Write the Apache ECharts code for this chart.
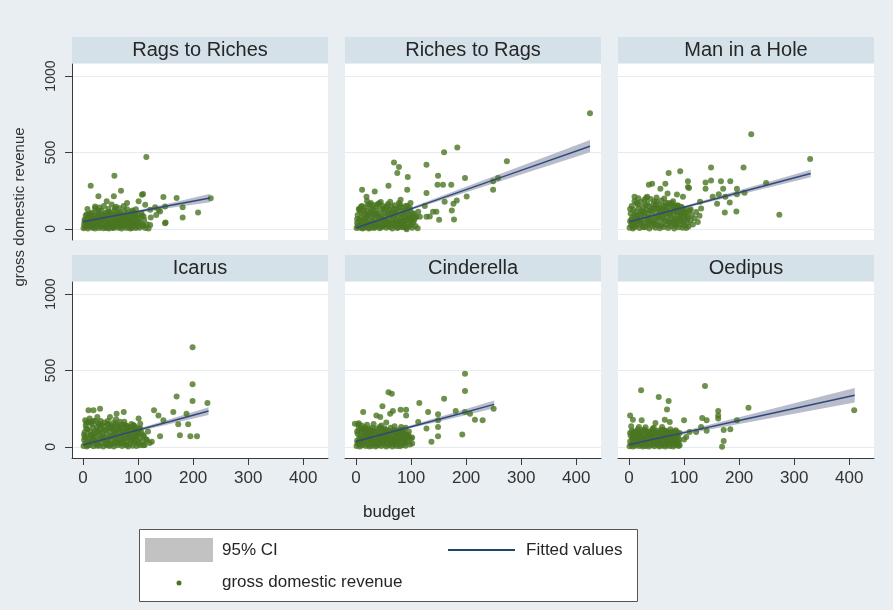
<!DOCTYPE html>
<html>
<head>
<meta charset="utf-8">
<title>gross domestic revenue by budget</title>
<script src="https://cdn.jsdelivr.net/npm/echarts@6/dist/echarts.min.js"></script>
<style>
  html, body { margin: 0; padding: 0; background: #e8eef2; }
  #chart { width: 893px; height: 610px; }
</style>
</head>
<body>
<div id="chart"></div>
<script>
  const panelNames = ['Rags to Riches', 'Riches to Rags', 'Man in a Hole', 'Icarus', 'Cinderella', 'Oedipus'];
  const xTicks = [0, 100, 200, 300, 400];
  const yTicks = [0, 500, 1000];

  // budget, revenue
  const ragsToRiches = [
    [1,4],[2,30],[3,62],[4,12],[5,88],[6,45],[7,20],[8,70],[9,2],[10,38],[11,95],[12,55],[13,15],[14,78],[15,28],[16,105],[17,8],[18,48],[19,65],[20,22],[21,88],[22,3],[23,40],[24,112],[25,60],[26,18],[27,80],[28,32],[29,6],[30,98],[31,50],[32,70],[33,14],[34,118],[35,36],[36,85],[37,4],[38,58],[39,26],[40,102],[41,72],[42,10],[43,44],[44,90],[45,20],[46,64],[47,2],[48,110],[49,34],[50,80],[51,52],[52,12],[53,96],[54,28],[55,68],[56,5],[57,120],[58,42],[59,85],[60,18],[61,60],[62,100],[63,32],[64,8],[65,75],[66,48],[67,108],[68,22],[69,62],[70,3],[71,90],[72,38],[73,15],[74,70],[75,115],[76,50],[77,25],[78,85],[79,6],[80,60],[81,100],[82,35],[83,14],[84,78],[85,45],[86,2],[87,95],[88,28],[89,62],[90,12],[91,82],[92,40],[93,105],[94,20],[95,58],[96,5],[97,75],[98,32],[99,92],[100,15],[101,50],[102,70],[103,8],[105,38],[107,88],[109,18],[111,60],[113,5],[116,30],[119,2],[123,75],
    [3,50],[7,95],[11,25],[15,60],[19,10],[23,75],[27,45],[31,20],[35,65],[39,85],[43,5],[47,40],[51,95],[55,30],[59,55],[63,75],[67,15],[71,45],[75,85],[79,30],[83,50],[87,70],[91,25],[95,90],[99,40],[5,15],[17,35],[29,90],[41,55],[53,8],[65,100],[77,62],[89,5],[61,40],[45,108],
    [8,130],[14,98],[22,135],[30,140],[38,150],[46,130],[52,160],[60,145],[66,135],[74,150],[80,128],[90,120],[28,120],[58,135],[96,128],
    [115,470],[57,348],[14,282],[69,250],[28,213],[109,228],[56,213],[43,180],[146,208],[170,202],[232,200],[101,180],[181,142],[149,147],[181,74],[209,107],[150,41],[137,125],[110,81],[89,114],[106,103],[122,125],[113,158],[131,142],[140,114],[149,37],[109,26],[122,26],[80,169],[22,146],[107,224],[133,90]
  ];
  const richesToRags = [
    [1,5],[2,40],[3,90],[4,18],[5,130],[6,60],[7,8],[8,110],[9,32],[10,75],[11,150],[12,3],[13,50],[14,95],[15,22],[16,140],[17,68],[18,10],[19,120],[20,42],[21,85],[22,160],[23,2],[24,58],[25,105],[26,28],[27,135],[28,78],[29,14],[30,48],[31,155],[32,92],[33,6],[34,65],[35,118],[36,35],[37,145],[38,82],[39,20],[40,100],[41,55],[42,165],[43,4],[44,72],[45,128],[46,38],[47,90],[48,15],[49,150],[50,60],[51,112],[52,25],[53,80],[54,140],[55,8],[56,48],[57,98],[58,162],[59,30],[60,70],[61,125],[62,12],[63,88],[64,52],[65,145],[66,2],[67,108],[68,40],[69,75],[70,155],[71,18],[72,95],[73,60],[74,130],[75,6],[76,85],[77,35],[78,115],[79,50],[80,160],[81,22],[82,70],[83,140],[84,10],[85,98],[86,45],[87,120],[88,28],[89,78],[90,150],[91,5],[92,62],[93,105],[94,36],[95,132],[96,15],[97,88],[98,52],[99,115],[100,25],[101,72],[102,8],[103,95],[104,40],[106,60],[108,18],[110,80],[112,4],
    [2,65],[6,125],[10,20],[14,115],[18,45],[22,95],[26,5],[30,125],[34,40],[38,160],[42,80],[46,10],[50,130],[54,55],[58,110],[62,35],[66,85],[70,105],[74,45],[78,140],[82,95],[86,15],[90,115],[94,75],[98,135],[102,60],[9,145],[25,160],[37,100],[49,30],[57,148],[69,125],[81,45],[93,152],[105,100],
    [3,22],[8,55],[14,8],[18,80],[24,30],[29,100],[35,12],[41,25],[47,60],[53,40],[58,20],[64,100],[70,30],[77,10],[83,55],[89,12],[95,70],[27,170],[45,175],[62,178],[20,182],[78,170],
    [425,757],[160,501],[184,532],[128,420],[274,442],[69,435],[78,405],[75,366],[94,340],[149,348],[198,333],[11,256],[34,245],[59,282],[93,256],[148,289],[158,289],[173,289],[249,311],[258,333],[249,256],[201,212],[183,186],[177,164],[174,120],[178,61],[151,59],[128,234],[128,79],[134,81],[116,79],[107,74],[140,112],[146,112],[19,210],[42,168],[81,190],[99,170],[92,-2],[90,55],[113,112],[125,149],[161,177]
  ];
  const manInAHole = [
    [1,8],[2,50],[3,100],[4,25],[5,150],[6,75],[7,3],[8,125],[9,40],[10,180],[11,62],[12,15],[13,110],[14,88],[15,30],[16,160],[17,55],[18,135],[19,5],[20,95],[21,45],[22,175],[23,70],[24,20],[25,140],[26,115],[27,38],[28,190],[29,82],[30,10],[31,125],[32,58],[33,165],[34,28],[35,100],[36,148],[37,2],[38,72],[39,195],[40,45],[41,118],[42,18],[43,88],[44,160],[45,35],[46,130],[47,62],[48,8],[49,105],[50,178],[51,48],[52,140],[53,22],[54,80],[55,158],[56,4],[57,115],[58,65],[59,185],[60,32],[61,92],[62,150],[63,12],[64,128],[65,55],[66,100],[67,170],[68,25],[69,78],[70,140],[71,6],[72,110],[73,45],[74,160],[75,85],[76,18],[77,125],[78,60],[79,148],[80,35],[81,98],[82,3],[83,135],[84,70],[85,20],[86,115],[87,50],[88,155],[89,85],[90,10],[91,130],[92,62],[93,100],[94,30],[95,145],[96,75],[97,8],[98,118],[99,45],[100,90],[101,22],[102,130],[103,60],[104,5],[105,105],[106,40],[107,80],[108,15],[110,120],[112,55],[114,90],[116,28],[119,70],[122,110],[125,45],[128,85],
    [2,130],[6,30],[10,90],[14,170],[18,60],[22,115],[26,10],[30,155],[34,75],[38,120],[42,50],[46,180],[50,80],[54,130],[58,20],[62,110],[66,150],[70,50],[74,95],[78,170],[82,115],[86,35],[90,150],[94,80],[98,135],[102,100],[106,70],[12,45],[24,100],[36,35],[48,150],[60,130],[72,170],[84,150],[96,110],
    [4,60],[9,12],[15,80],[22,40],[28,105],[35,55],[42,135],[48,30],[55,95],[62,70],[68,120],[75,40],[82,60],[88,112],[95,50],[17,200],[33,210],[50,205],[64,198],[80,180],
    [222,619],[329,458],[149,401],[208,401],[72,366],[93,377],[36,289],[42,295],[66,295],[107,311],[107,274],[139,304],[149,317],[139,263],[167,311],[184,311],[171,263],[249,300],[109,267],[87,225],[57,263],[196,263],[196,226],[210,236],[163,226],[152,210],[175,210],[183,172],[195,114],[160,164],[174,107],[273,92],[131,134],[129,177],[112,129],[31,202],[70,232],[98,210],[10,210]
  ];
  const icarus = [
    [1,6],[2,45],[3,95],[4,20],[5,140],[6,70],[7,2],[8,115],[9,35],[10,165],[11,58],[12,12],[13,100],[14,80],[15,28],[16,150],[17,50],[18,125],[19,4],[20,88],[21,40],[22,170],[23,65],[24,18],[25,130],[26,105],[27,32],[28,155],[29,75],[30,8],[31,118],[32,52],[33,145],[34,24],[35,92],[36,135],[37,3],[38,68],[39,160],[40,42],[41,110],[42,15],[43,82],[44,150],[45,30],[46,120],[47,58],[48,6],[49,98],[50,140],[51,45],[52,128],[53,20],[54,75],[55,112],[56,2],[57,105],[58,60],[59,150],[60,28],[61,88],[62,135],[63,10],[64,118],[65,50],[66,95],[67,165],[68,22],[69,72],[70,130],[71,5],[72,100],[73,40],[74,145],[75,80],[76,15],[77,115],[78,55],[79,138],[80,32],[81,90],[82,3],[83,125],[84,65],[85,18],[86,108],[87,45],[88,150],[89,78],[90,8],[91,120],[92,58],[93,95],[94,28],[95,130],[96,70],[97,5],[98,110],[99,40],[100,85],[101,20],[102,120],[103,55],[104,10],[106,95],[108,35],[110,70],[112,12],[115,50],[118,100],[121,25],
    [2,80],[6,120],[10,30],[14,160],[18,65],[22,100],[26,8],[30,140],[34,60],[38,110],[42,40],[46,150],[50,15],[54,130],[58,85],[62,50],[66,120],[70,30],[74,100],[78,140],[82,60],[86,130],[90,50],[94,110],[98,75],[102,90],[6,160],[18,170],[32,170],[48,125],[56,160],[68,145],[80,110],[92,140],[104,120],
    [3,60],[9,10],[16,75],[23,38],[30,95],[37,50],[44,10],[51,70],[58,30],[65,25],[72,60],[79,12],[86,80],[93,40],[12,185],[26,195],[45,170],[60,180],[75,165],
    [199,652],[199,409],[199,300],[226,287],[170,330],[129,239],[137,206],[164,228],[188,217],[146,174],[173,148],[191,148],[176,76],[195,70],[207,70],[140,70],[125,33],[101,185],[104,152],[19,239],[31,250],[10,239],[49,196],[61,217],[74,228],[4,174],[92,141],[110,76],[116,43],[110,11]
  ];
  const cinderella = [
    [1,5],[2,40],[3,85],[4,18],[5,120],[6,60],[7,2],[8,100],[9,30],[10,70],[11,10],[12,110],[13,48],[14,88],[15,22],[16,128],[17,58],[18,6],[19,95],[20,35],[21,75],[22,14],[23,115],[24,50],[25,3],[26,90],[27,28],[28,68],[29,125],[30,8],[31,45],[32,105],[33,20],[34,80],[35,55],[36,2],[37,118],[38,38],[39,72],[40,12],[41,98],[42,50],[43,130],[44,25],[45,85],[46,5],[47,62],[48,110],[49,32],[50,78],[51,15],[52,120],[53,45],[54,92],[55,3],[56,65],[57,28],[58,105],[59,50],[60,10],[61,85],[62,38],[63,125],[64,20],[65,70],[66,2],[67,98],[68,45],[69,112],[70,15],[71,60],[72,30],[73,88],[74,6],[75,75],[76,42],[77,100],[78,18],[79,58],[80,4],[81,80],[82,35],[83,110],[84,12],[85,65],[86,45],[87,90],[88,22],[89,55],[90,8],[92,75],[94,35],[96,100],[98,15],[100,55],
    [2,100],[6,30],[10,120],[14,40],[18,115],[22,60],[26,110],[30,85],[34,35],[38,100],[42,75],[46,120],[50,40],[54,110],[58,70],[62,100],[66,55],[70,95],[74,40],[78,110],[82,60],[86,100],[90,40],[94,80],[8,55],[16,90],[24,80],[28,100],[44,60],[56,90],[64,45],[72,105],[84,90],[92,55],[96,70],
    [5,155],[10,140],[20,145],[32,150],[46,140],[55,160],[70,135],[82,130],[90,125],[3,25],[14,65],[27,45],[41,15],[52,75],[66,30],[78,80],
    [198,478],[198,365],[59,358],[65,348],[160,315],[115,287],[48,265],[13,228],[67,235],[81,243],[91,243],[62,217],[91,206],[131,228],[149,213],[181,235],[198,228],[207,217],[216,178],[230,174],[250,250],[149,174],[149,130],[149,70],[193,81],[137,33],[102,61],[102,22],[128,120],[113,163],[37,206],[-2,152],[4,147],[44,196]
  ];
  const oedipus = [
    [1,4],[2,35],[3,75],[4,15],[5,105],[6,50],[7,2],[8,88],[9,25],[10,62],[11,8],[12,98],[13,40],[14,72],[15,18],[16,115],[17,52],[18,5],[19,85],[20,30],[21,65],[22,12],[23,100],[24,45],[25,3],[26,78],[27,22],[28,58],[29,110],[30,6],[31,38],[32,92],[33,15],[34,68],[35,48],[36,2],[37,102],[38,30],[39,62],[40,10],[41,85],[42,42],[43,118],[44,20],[45,72],[46,4],[47,55],[48,95],[49,28],[50,68],[51,12],[52,105],[53,40],[54,80],[55,3],[56,58],[57,22],[58,92],[59,45],[60,8],[61,75],[62,32],[63,110],[64,15],[65,62],[66,2],[67,88],[68,40],[69,100],[70,12],[71,55],[72,28],[73,80],[74,5],[75,68],[76,38],[77,92],[78,18],[79,50],[80,2],[81,72],[82,30],[83,95],[84,10],[85,58],[86,40],[87,80],[88,20],[89,65],[90,5],[91,48],
    [2,90],[6,20],[10,100],[14,50],[18,95],[22,70],[26,110],[30,40],[34,95],[38,70],[42,100],[46,30],[50,90],[54,55],[58,110],[62,70],[66,105],[70,40],[74,95],[78,60],[82,100],[86,70],[90,30],[8,60],[16,80],[24,25],[32,60],[40,90],[48,75],[56,30],[64,90],[72,70],[80,85],[88,95],[84,45],
    [4,135],[18,130],[30,128],[45,125],[60,130],[75,115],[85,108],[92,90],[6,60],[21,40],[36,75],[52,25],[68,60],[80,35],
    [22,370],[138,398],[54,326],[72,300],[69,244],[2,206],[7,178],[23,174],[48,156],[65,178],[74,163],[100,174],[133,189],[141,174],[162,234],[162,206],[162,185],[217,256],[172,111],[184,115],[172,39],[169,0],[141,106],[122,98],[110,98],[104,65],[100,48],[92,11],[86,48],[196,174],[409,239],[131,130],[80,76]
  ];
  const panelPoints = [ragsToRiches, richesToRags, manInAHole, icarus, cinderella, oedipus];

  // fitted line and 95% CI, per panel
  const fitX   = [[0, 40, 100, 160, 231], [0, 40, 100, 200, 300, 425], [0, 40, 100, 200, 330], [0, 40, 100, 160, 228], [0, 40, 100, 180, 251], [0, 40, 100, 200, 300, 410]];
  const fitY   = [[47, 74, 114, 154, 202], [5, 55, 131, 257, 383, 541], [46, 84, 142, 238, 362], [13, 52, 110, 168, 234], [35, 74, 132, 209, 278], [14, 46, 93, 172, 251, 338]];
  const ciLow  = [[39, 69, 106, 138, 174], [-3, 49, 123, 239, 355, 501], [39, 79, 135, 223, 337], [6, 47, 101, 152, 209], [28, 69, 123, 191, 252], [6, 40, 83, 150, 216, 290]];
  const ciHigh = [[55, 79, 122, 170, 230], [13, 61, 139, 275, 411, 581], [53, 89, 149, 253, 387], [20, 57, 119, 184, 259], [42, 79, 141, 227, 304], [22, 52, 103, 194, 286, 386]];

  const chart = echarts.init(document.getElementById('chart'));
  const font = 'Liberation Sans, Arial, sans-serif';
  const colLeft = [72, 345, 618];
  const rowTop = [64, 282];
  const panelW = 256, panelH = 176, stripH = 26;

  const grids = [], xAxes = [], yAxes = [], series = [], graphics = [];

  panelNames.forEach(function (name, i) {
    const row = Math.floor(i / 3), col = i % 3;
    const left = colLeft[col], top = rowTop[row];
    grids.push({ left: left, top: top, width: panelW, height: panelH, show: true, backgroundColor: '#fff', borderWidth: 0 });

    xAxes.push({
      type: 'value', gridIndex: i, min: -20, max: 445,
      axisLine: { show: row === 1, onZero: false, lineStyle: { color: '#3a3a3a' } },
      axisTick: { show: row === 1, length: 7, customValues: xTicks, lineStyle: { color: '#3a3a3a' } },
      axisLabel: { show: row === 1, customValues: xTicks, fontSize: 17, margin: 12, color: '#333', fontFamily: font },
      splitLine: { show: false }
    });
    yAxes.push({
      type: 'value', gridIndex: i, min: -73, max: 1079,
      axisLine: { show: col === 0, onZero: false, lineStyle: { color: '#3a3a3a' } },
      axisTick: { show: col === 0, length: 7, customValues: yTicks, lineStyle: { color: '#3a3a3a' } },
      axisLabel: {
        show: col === 0, customValues: yTicks, rotate: 90, fontSize: 14, margin: 14, color: '#333', fontFamily: font,
        formatter: function (v) { return String(v); }
      },
      splitLine: { show: true, lineStyle: { color: '#e5ecf1', width: 1 } }
    });

    const xs = fitX[i];
    // confidence band drawn as one polygon through the axis scales
    series.push({
      type: 'custom', xAxisIndex: i, yAxisIndex: i, silent: true,
      data: xs.map(function (x, k) { return [x, ciLow[i][k], ciHigh[i][k]]; }),
      encode: { x: 0, y: [1, 2] },
      renderItem: function (params, api) {
        if (params.dataIndex !== 0) return null;
        const upper = [], lower = [];
        for (let k = 0; k < xs.length; k++) {
          upper.push(api.coord([xs[k], ciHigh[i][k]]));
          lower.unshift(api.coord([xs[k], ciLow[i][k]]));
        }
        return { type: 'polygon', shape: { points: upper.concat(lower) }, style: { fill: '#b9bccb' } };
      }
    });
    series.push({
      type: 'line', xAxisIndex: i, yAxisIndex: i,
      data: xs.map(function (x, k) { return [x, fitY[i][k]]; }),
      symbol: 'none', lineStyle: { color: '#31497a', width: 1.5 }, silent: true
    });
    series.push({
      type: 'scatter', xAxisIndex: i, yAxisIndex: i,
      data: panelPoints[i], symbolSize: 6,
      itemStyle: { color: '#4a7622' }, silent: true
    });

    graphics.push({ type: 'rect', shape: { x: left, y: top - stripH - 1, width: panelW, height: stripH }, style: { fill: '#d5e1e9' } });
    graphics.push({ type: 'text', x: left + panelW / 2, y: top - stripH / 2 - 1, style: { text: name, font: '20px ' + font, fill: '#262626', textAlign: 'center', textVerticalAlign: 'middle' } });
  });

  // axis titles
  graphics.push({ type: 'text', x: 20, y: 207, rotation: Math.PI / 2, style: { text: 'gross domestic revenue', font: '15px ' + font, fill: '#333', textAlign: 'center', textVerticalAlign: 'middle' } });
  graphics.push({ type: 'text', x: 389, y: 512, style: { text: 'budget', font: '17px ' + font, fill: '#262626', textAlign: 'center', textVerticalAlign: 'middle' } });

  // legend box
  graphics.push({ type: 'rect', shape: { x: 139.5, y: 529.5, width: 498, height: 72 }, style: { fill: '#fff', stroke: '#555', lineWidth: 1 } });
  graphics.push({ type: 'rect', shape: { x: 145, y: 538, width: 68, height: 24 }, style: { fill: '#c2c2c2' } });
  graphics.push({ type: 'text', x: 222, y: 550, style: { text: '95% CI', font: '17px ' + font, fill: '#262626', textVerticalAlign: 'middle' } });
  graphics.push({ type: 'line', shape: { x1: 448, y1: 550, x2: 515, y2: 550 }, style: { stroke: '#1f4670', lineWidth: 2 } });
  graphics.push({ type: 'text', x: 526, y: 550, style: { text: 'Fitted values', font: '17px ' + font, fill: '#262626', textVerticalAlign: 'middle' } });
  graphics.push({ type: 'circle', shape: { cx: 179, cy: 583, r: 2.5 }, style: { fill: '#4a7622' } });
  graphics.push({ type: 'text', x: 222, y: 582, style: { text: 'gross domestic revenue', font: '17px ' + font, fill: '#262626', textVerticalAlign: 'middle' } });

  chart.setOption({
    backgroundColor: '#e8eef2',
    animation: false,
    grid: grids,
    xAxis: xAxes,
    yAxis: yAxes,
    series: series,
    graphic: graphics
  });
  window.addEventListener('resize', chart.resize);
</script>
</body>
</html>
